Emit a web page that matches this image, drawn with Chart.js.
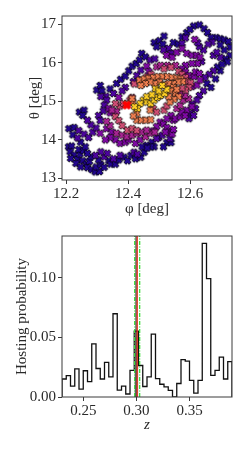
<!DOCTYPE html>
<html><head><meta charset="utf-8">
<script src="https://cdn.jsdelivr.net/npm/chart.js@4"></script>
<style>
html,body{margin:0;padding:0;background:#fff;}
canvas{display:block;}
</style></head><body>
<canvas id="top" width="249" height="225"></canvas>
<canvas id="bot" width="249" height="224"></canvas>
<script>
// ---------- DATA: sky-position panel ----------
const phiTicks = [12.2, 12.4, 12.6];
const thetaTicks = [13, 14, 15, 16, 17];
// colour level (plasma colormap 0..1) of each group of candidate galaxies
const levels = [0.04, 0.13, 0.26, 0.38, 0.52, 0.68, 0.9];
const ptsDark = [[12.208,13.82],[12.218,13.84],[12.213,13.69],[12.226,13.61],[12.215,13.52],[12.237,13.49],[12.245,13.63],[12.241,13.75],[12.256,13.72],[12.254,13.46],[12.232,13.39],[12.265,13.37],[12.275,13.44],[12.247,13.30],[12.269,13.28],[12.283,13.23],[12.294,13.17],[12.308,13.18],[12.297,13.30],[12.312,13.36],[12.323,13.29],[12.305,13.48],[12.338,13.46],[12.344,13.37],[12.359,13.37],[12.280,13.56],[12.269,13.65],[12.262,13.82],[12.247,13.94],[12.209,14.29],[12.222,14.13],[12.226,14.32],[12.243,14.72],[12.258,14.77],[12.254,14.63],
[12.370,13.48],[12.387,13.55],[12.398,13.46],[12.409,13.60],[12.424,13.51],[12.441,13.55],[12.452,13.68],
[12.611,16.95],[12.630,16.98],[12.645,16.88],[12.684,16.65],[12.697,16.62],[12.710,16.59],[12.723,16.55],[12.729,16.40],[12.710,16.33],[12.729,16.19],[12.714,16.10],[12.720,16.02],[12.697,16.46],[12.656,16.78],[12.667,16.65],
[12.299,15.29],[12.310,15.41],[12.316,15.27],[12.342,15.32],[12.363,15.46],[12.376,15.57],[12.391,15.65],[12.402,15.79],[12.413,15.91],[12.426,15.98],[12.437,16.07],[12.444,16.24],[12.456,16.15],
[12.484,16.52],[12.501,16.57],[12.516,16.69],[12.512,16.48],[12.492,16.41],[12.546,16.52],[12.562,16.48],[12.574,16.67],[12.589,16.78],[12.600,16.86],
[12.525,13.93],[12.514,13.82],[12.538,13.93],[12.477,13.94],[12.460,13.86],[12.484,13.82],[12.473,13.82],[12.445,13.82],[12.462,13.79],
[12.654,15.46],[12.667,15.36],[12.682,15.58],[12.697,15.79],[12.688,15.89],[12.703,15.96]];
const ptsIndigo = [[12.323,13.56],[12.353,13.51],[12.333,13.65],[12.312,13.69],[12.295,13.60],[12.237,14.05],[12.241,14.24],[12.258,14.15],[12.273,14.06],[12.286,14.20],[12.297,14.31],[12.280,14.39],[12.269,14.51],
[12.374,13.60],[12.419,13.68],[12.430,13.63],
[12.329,15.13],[12.312,15.12],[12.353,15.20],[12.331,15.03],[12.323,14.90],[12.320,14.75],[12.305,14.63],[12.310,14.50],[12.391,15.36],[12.381,15.27],[12.417,15.51],[12.428,15.67],[12.441,15.81],
[12.675,16.19],[12.697,16.14],[12.686,16.27],[12.671,16.53],[12.658,16.48],[12.675,15.79],[12.662,15.70],[12.647,15.62],[12.643,15.27],[12.630,15.15],[12.622,15.03],[12.606,14.93],[12.617,14.81],[12.600,14.69],[12.596,14.55],[12.611,14.63],
[12.637,16.03],[12.643,16.33],[12.630,16.41],[12.624,16.52],[12.585,16.64],[12.574,16.50],[12.530,16.37],[12.538,16.24],[12.514,16.33],[12.471,16.07],[12.486,16.10],
[12.499,14.06],[12.535,14.03],[12.510,14.12],[12.492,14.03]];
const ptsPurple = [[12.615,16.60],[12.524,16.19],[12.542,16.14],[12.557,16.27],[12.574,16.36],[12.589,16.24],[12.606,16.19],[12.621,16.19],[12.632,16.14],[12.624,15.98],[12.606,15.98],[12.585,15.93],[12.574,15.84],[12.585,15.76],[12.596,15.67],[12.613,15.64],[12.617,15.76],[12.630,15.72],[12.606,15.38],[12.622,15.42],[12.632,15.55],
[12.503,14.46],[12.514,14.41],[12.525,14.32],[12.531,14.20],[12.542,14.15],[12.520,14.20],[12.546,14.51],[12.538,14.63],[12.525,14.55],[12.552,14.55],[12.568,14.60],[12.589,14.77],[12.606,14.86],[12.573,14.72],[12.584,14.63],[12.546,14.27],[12.492,14.34],[12.481,14.23],
[12.331,14.29],[12.348,14.20],[12.359,14.00],[12.374,13.91],[12.391,13.94],[12.402,14.00],[12.424,13.91],[12.439,14.00],[12.342,14.06],[12.327,14.00],[12.310,14.17],
[12.342,14.70],[12.338,14.82],[12.370,15.10],[12.460,15.91],[12.467,15.77]];
const ptsMagenta = [[12.363,14.17],[12.381,14.12],[12.396,14.08],[12.413,14.12],[12.428,14.17],[12.456,14.08],[12.471,14.17],[12.486,14.20],[12.443,14.20],[12.460,14.25],
[12.557,14.81],[12.568,14.89],[12.578,15.03],[12.595,15.07],[12.584,15.15],[12.568,15.20],
[12.342,14.37],[12.331,14.48],[12.363,14.74],[12.348,14.77],
[12.492,15.89],[12.505,15.93],[12.527,15.93],[12.553,15.93]];
const ptsPink = [[12.359,14.60],[12.370,14.50],[12.381,14.37],[12.398,14.25],[12.413,14.29],[12.428,14.24],[12.374,14.88],[12.385,14.94],[12.359,14.94],[12.406,15.03],[12.413,15.10],
[12.460,15.63],[12.474,15.70],[12.516,15.84],[12.538,15.88],[12.563,15.77],[12.574,15.70],[12.585,15.62],[12.591,15.51],[12.602,15.48],[12.596,15.36],[12.585,15.29],[12.574,15.34],
[12.516,14.77],[12.525,14.88],[12.481,14.81],[12.492,14.72],[12.420,15.45]];
const ptsOrange = [[12.437,15.55],[12.452,15.58],[12.467,15.60],[12.482,15.62],[12.497,15.64],[12.512,15.64],[12.527,15.64],[12.542,15.62],[12.557,15.60],[12.570,15.58],[12.576,15.51],[12.561,15.50],[12.546,15.46],[12.531,15.46],[12.516,15.43],[12.501,15.50],[12.486,15.46],[12.471,15.50],[12.456,15.46],[12.441,15.41],
[12.546,15.36],[12.538,15.27],[12.553,15.20],[12.563,15.12],[12.548,15.05],[12.535,14.98],[12.557,15.31],[12.531,15.12],
[12.428,14.51],[12.443,14.51],[12.458,14.51],[12.473,14.52],[12.471,14.77],
[12.415,14.98],[12.428,14.69],[12.417,14.62],[12.396,14.93],[12.413,15.07]];
const ptsYellow = [[12.449,15.03],[12.460,14.98],[12.473,14.94],[12.484,15.03],[12.495,15.10],[12.505,15.15],[12.518,15.20],[12.525,15.31],[12.488,15.32],[12.499,15.27],[12.510,15.41],[12.439,14.94],[12.430,14.81],[12.460,15.12],[12.477,15.17],[12.421,14.86]];
const trueHost = [[12.396, 14.90]];

// ---------- DATA: redshift panel ----------
const zTicks = [0.25, 0.30, 0.35];
const probTicks = [0.00, 0.05, 0.10];
const binEdges = [0.230,0.234,0.238,0.242,0.246,0.250,0.254,0.258,0.262,0.266,0.270,0.274,0.278,0.282,0.286,0.290,0.294,0.298,0.302,0.306,0.310,0.314,0.318,0.322,0.326,0.330,0.334,0.338,0.342,0.346,0.350,0.354,0.358,0.362,0.366,0.370,0.374,0.378,0.382,0.386,0.390];
const hostProb = [0.0151,0.0179,0.0091,0.0236,0.0066,0.0220,0.0129,0.0445,0.0239,0.0151,0.0290,0.0168,0.0698,0.0058,0.0091,0.0025,0.0223,0.0552,0.0264,0.0088,0.0168,0.0527,0.0154,0.0107,0.0085,0.0055,0.0000,0.0113,0.0313,0.0300,0.0140,0.0033,0.0140,0.1288,0.0992,0.0181,0.0223,0.0335,0.0151,0.0297];
const zTrue = 0.2997;
const zEstimate = 0.3008;
const zBand = [0.2984, 0.3031];

// ---------- helpers ----------
const PLASMA = ['#0d0887','#41049d','#6a00a8','#8f0da4','#b12a90','#cc4778','#e16462','#f2844b','#fca636','#fcce25','#f0f921'];
function hex(c){return [1,3,5].map(i=>parseInt(c.substr(i,2),16));}
function plasma(t){
  t=Math.max(0,Math.min(1,t));
  const f=t*(PLASMA.length-1), i=Math.min(Math.floor(f),PLASMA.length-2), r=f-i;
  const a=hex(PLASMA[i]), b=hex(PLASMA[i+1]);
  return 'rgb('+a.map((v,k)=>Math.round(v+(b[k]-v)*r)).join(',')+')';
}
function xMarker(fill, s, edge, lw){
  const n=Math.ceil(2*s+3), c=document.createElement('canvas');
  c.width=c.height=n;
  const g=c.getContext('2d'), a=0.42;
  const P=[[-a,-1],[a,-1],[a,-a],[1,-a],[1,a],[a,a],[a,1],[-a,1],[-a,a],[-1,a],[-1,-a],[-a,-a]];
  const k=Math.SQRT1_2;
  g.translate(n/2,n/2);
  g.beginPath();
  P.forEach(([x,y],i)=>{const X=(x-y)*k*s, Y=(x+y)*k*s; i?g.lineTo(X,Y):g.moveTo(X,Y);});
  g.closePath();
  g.fillStyle=fill; g.fill();
  if(lw){g.lineWidth=lw; g.strokeStyle=edge; g.stroke();}
  return c;
}
const FONT='"Liberation Serif", "DejaVu Serif", serif';
const TXT='#2a2a2a';
const frame={id:'frame',afterDraw(chart){const{ctx,chartArea:a}=chart;ctx.save();ctx.strokeStyle='#3a3a3a';ctx.lineWidth=1;ctx.strokeRect(a.left,a.top,a.right-a.left,a.bottom-a.top);ctx.restore();}};
function axis(opts){
  return Object.assign({
    type:'linear',
    grid:{display:true,drawOnChartArea:false,drawTicks:true,tickLength:4,color:'#3a3a3a',lineWidth:1},
    border:{display:false},
  },opts);
}

// ---------- top chart ----------
const groups=[ptsDark,ptsIndigo,ptsPurple,ptsMagenta,ptsPink,ptsOrange,ptsYellow];
const scatterSets=groups.map((pts,i)=>({
  data:pts.map(p=>({x:p[0],y:p[1]})),
  pointStyle:xMarker(plasma(levels[i]),3.7,'#000',0.8),
  pointRadius:3.5,pointHoverRadius:3.5,showLine:false,order:groups.length-i+1
}));
scatterSets.push({data:trueHost.map(p=>({x:p[0],y:p[1]})),pointStyle:xMarker('#ff0000',4.6,'#ff0000',0),pointRadius:4,showLine:false,order:0});

new Chart(document.getElementById('top'),{
  type:'scatter',
  data:{datasets:scatterSets},
  options:{
    responsive:false,animation:false,devicePixelRatio:1,
    layout:{padding:{top:16,right:17,left:0,bottom:0}},
    plugins:{legend:{display:false},tooltip:{enabled:false}},
    scales:{
      x:axis({min:12.187,max:12.735,
        afterBuildTicks:s=>{s.ticks=phiTicks.map(v=>({value:v}));},
        afterFit:s=>{s.height=45;},
        ticks:{autoSkip:false,maxRotation:0,padding:1,color:TXT,font:{family:FONT,size:15},callback:v=>v.toFixed(1)},
        title:{display:true,text:'φ [deg]',color:TXT,font:{family:FONT,size:15},padding:{top:0,bottom:7}}}),
      y:axis({min:12.96,max:17.21,
        afterBuildTicks:s=>{s.ticks=thetaTicks.map(v=>({value:v}));},
        afterFit:s=>{s.width=62;},
        ticks:{autoSkip:false,padding:2,color:TXT,font:{family:FONT,size:15},callback:v=>String(v)},
        title:{display:true,text:'θ [deg]',color:TXT,font:{family:FONT,size:15},padding:{top:26,bottom:0}}})
    }
  },
  plugins:[frame]
});

// ---------- bottom chart ----------
const stepPts=[{x:binEdges[0],y:0}];
hostProb.forEach((v,i)=>stepPts.push({x:binEdges[i],y:v}));
stepPts.push({x:binEdges[binEdges.length-1],y:hostProb[hostProb.length-1]});
stepPts.push({x:binEdges[binEdges.length-1],y:0});
const yTop=0.135;
function vline(x,color,dash,w){return {data:[{x:x,y:0},{x:x,y:yTop}],showLine:true,pointRadius:0,borderColor:color,borderWidth:w,borderDash:dash,fill:false};}
const hostBin=17;
new Chart(document.getElementById('bot'),{
  type:'scatter',
  data:{datasets:[
    vline(zEstimate,'#e8301c',[],1.3),
    vline(zTrue,'#1a1a1a',[],1.1),
    vline(zBand[0],'#3fe03f',[4,1.5,1,1.5],1.3),
    vline(zBand[1],'#3fe03f',[4,1.5,1,1.5],1.3),
    {data:stepPts,showLine:true,stepped:true,pointRadius:0,borderColor:'#111',borderWidth:1.3,fill:false},
    {data:[{x:binEdges[hostBin],y:hostProb[hostBin]},{x:binEdges[hostBin+1],y:hostProb[hostBin]}],showLine:true,pointRadius:0,borderWidth:0,fill:'origin',backgroundColor:'rgba(70,70,70,0.45)'}
  ]},
  options:{
    responsive:false,animation:false,devicePixelRatio:1,
    layout:{padding:{top:8,right:17,left:0,bottom:0}},
    plugins:{legend:{display:false},tooltip:{enabled:false},filler:{propagate:false}},
    scales:{
      x:axis({min:0.23,max:0.39,
        afterBuildTicks:s=>{s.ticks=zTicks.map(v=>({value:v}));},
        afterFit:s=>{s.height=52;},
        ticks:{autoSkip:false,maxRotation:0,padding:1,color:TXT,font:{family:FONT,size:15},callback:v=>v.toFixed(2)},
        title:{display:true,text:'z',color:TXT,font:{family:FONT,size:15,style:'italic'},padding:{top:0,bottom:15}}}),
      y:axis({min:0,max:yTop,
        afterBuildTicks:s=>{s.ticks=probTicks.map(v=>({value:v}));},
        afterFit:s=>{s.width=62;},
        ticks:{autoSkip:false,padding:2,color:TXT,font:{family:FONT,size:15},callback:v=>v.toFixed(2)},
        title:{display:true,text:'Hosting probability',color:TXT,font:{family:FONT,size:15},padding:{top:13,bottom:0}}})
    }
  },
  plugins:[frame]
});
</script>
</body></html>
